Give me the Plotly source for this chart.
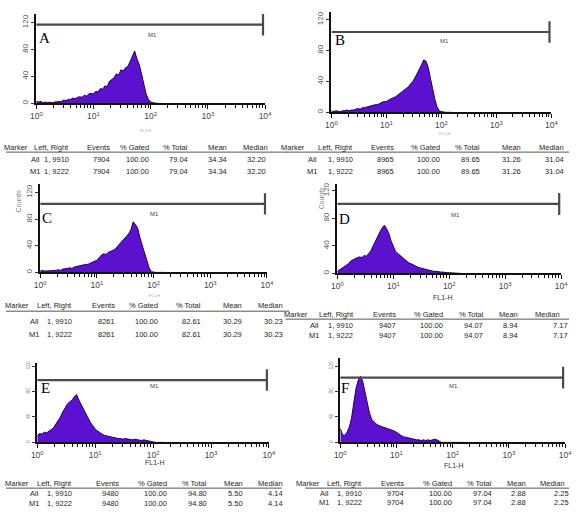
import plotly.graph_objects as go

W, H = 576, 512

# ---------------- data ----------------
# histogram bin centres, in decades of FL1-H (log10 of channel value)
log_bins = [0.00, 0.04, 0.08, 0.12, 0.16, 0.20, 0.24, 0.28, 0.32, 0.36,
            0.40, 0.44, 0.48, 0.52, 0.56, 0.60, 0.64, 0.68, 0.72, 0.76,
            0.80, 0.84, 0.88, 0.92, 0.96, 1.00, 1.04, 1.08, 1.12, 1.16,
            1.20, 1.24, 1.28, 1.32, 1.36, 1.40, 1.44, 1.48, 1.52, 1.56,
            1.60, 1.64, 1.68, 1.72, 1.76, 1.80, 1.84, 1.88, 1.92, 1.96,
            2.00, 2.04, 2.08, 2.12, 2.16, 2.20]

counts_A = [3, 2, 3, 1, 2, 1, 2, 1, 2, 2,
            3, 3, 5, 4, 6, 6, 8, 7, 9, 10,
            9, 12, 11, 14, 15, 14, 18, 17, 22, 21,
            26, 25, 33, 35, 38, 44, 42, 50, 48, 53,
            55, 62, 70, 78, 66, 58, 44, 28, 14, 6,
            2, 1, 0, 0, 0, 0]
counts_B = [2, 1, 2, 1, 1, 2, 2, 3, 2, 3,
            3, 4, 5, 4, 6, 6, 7, 8, 8, 9,
            10, 10, 12, 13, 14, 14, 16, 17, 19, 20,
            22, 24, 27, 28, 31, 33, 37, 40, 45, 50,
            56, 62, 68, 66, 58, 44, 30, 17, 7, 2,
            1, 0, 0, 0, 0, 0]
counts_C = [2, 3, 2, 2, 3, 2, 3, 3, 4, 3,
            5, 5, 6, 7, 6, 8, 9, 9, 10, 11,
            12, 12, 14, 15, 17, 18, 22, 26, 28, 27,
            30, 31, 33, 35, 39, 43, 46, 50, 54, 58,
            64, 76, 72, 66, 52, 40, 30, 20, 7, 1,
            0, 0, 0, 0, 0, 0]
counts_D = [3, 5, 7, 9, 12, 14, 18, 20, 22, 23,
            24, 23, 26, 25, 29, 33, 40, 47, 55, 60,
            66, 70, 65, 58, 47, 38, 32, 29, 26, 23,
            20, 18, 15, 14, 12, 11, 9, 8, 7, 6,
            5, 4, 4, 3, 3, 2, 2, 2, 1, 1,
            1, 1, 0, 0, 0, 0]
counts_E = [11, 14, 13, 16, 15, 17, 20, 23, 28, 33,
            40, 48, 55, 60, 64, 66, 72, 75, 66, 60,
            52, 45, 37, 31, 26, 21, 18, 15, 13, 11,
            10, 9, 8, 7, 7, 6, 6, 5, 6, 5,
            5, 4, 5, 4, 4, 3, 4, 3, 2, 1,
            0, 0, 0, 0, 0, 0]
counts_F = [22, 12, 11, 16, 24, 38, 62, 85, 98, 104,
            96, 80, 62, 46, 36, 32, 29, 27, 25, 24,
            23, 22, 21, 20, 18, 16, 13, 11, 9, 8,
            7, 6, 5, 5, 4, 4, 3, 4, 3, 4,
            3, 4, 5, 4, 2, 0, 0, 0, 0, 0,
            0, 0, 0, 0, 0, 0]

panel_letters = ["A", "B", "C", "D", "E", "F"]
all_counts = [counts_A, counts_B, counts_C, counts_D, counts_E, counts_F]

# statistics tables
table_header = ["Marker", "Left, Right", "Events", "% Gated", "% Total", "Mean", "Median"]
row_labels = ["All", "M1"]
row_left_right = ["1, 9910", "1, 9222"]
events = ["7904", "8965", "8261", "9407", "9480", "9704"]
pct_gated = ["100.00", "100.00", "100.00", "100.00", "100.00", "100.00"]
pct_total = ["79.04", "89.65", "82.61", "94.07", "94.80", "97.04"]
mean_vals = ["34.34", "31.26", "30.29", "8.94", "5.50", "2.88"]
median_vals = ["32.20", "31.04", "30.23", "7.17", "4.14", "2.25"]

gate_m1 = [1, 9222]          # M1 marker (left, right channel)
x_tick_vals = [1, 10, 100, 1000, 10000]
x_tick_text = ["10<sup>0</sup>", "10<sup>1</sup>", "10<sup>2</sup>", "10<sup>3</sup>", "10<sup>4</sup>"]
y_tick_vals = [0, 40, 80, 120]
y_tick_text = ["0", "40", "80", "120"]

# ---------------- layout config (pixel positions) ----------------
cfg = [
    dict(box=(31, 265, 12, 102), ymax=133, m1=117, cap=16, letter=(39, 36), m1lbl=(150, 33),
         xt=(143, 129, True), yt=None, ysmall=False,
         hy=146, ly=151, ry=(158, 171), lx=(0, 287), mh=25, lr=37,
         cr=[67, 108, 148, 188, 228, 268], hr=[67, 108, 148, 188, 228, 270]),
    dict(box=(333, 558, 10, 111), ymax=130, m1=104, cap=14, letter=(342, 38), m1lbl=(449, 39),
         xt=(449, 132, True), yt=None, ysmall=False,
         hy=146, ly=151, ry=(158, 171), lx=(286, 576), mh=308, lr=320,
         cr=[357, 399, 446, 487, 529, 573], hr=[357, 399, 446, 487, 529, 573]),
    dict(box=(35, 267, 183, 272), ymax=133, m1=103, cap=16, letter=(42, 217), m1lbl=(152, 213),
         xt=(152, 295, True), yt=(13, 200), ysmall=False,
         hy=305, ly=311, ry=(321, 334), lx=(0, 290), mh=26, lr=36,
         cr=[70, 114, 158, 202, 244, 285], hr=[70, 114, 158, 202, 244, 285]),
    dict(box=(339, 568, 183, 273), ymax=130, m1=101, cap=16, letter=(346, 218), m1lbl=(460, 214),
         xt=(447, 297, False), yt=(323, 197), ysmall=False,
         hy=314, ly=319, ry=(325, 335), lx=(286, 576), mh=311, lr=322,
         cr=[357, 401, 449, 490, 526, 577], hr=[358, 401, 449, 491, 526, 569]),
    dict(box=(32, 269, 363, 443), ymax=125, m1=98, cap=17, letter=(40, 388), m1lbl=(152, 386),
         xt=(152, 463, False), yt=None, ysmall=True,
         hy=484, ly=489, ry=(494, 504), lx=(0, 282), mh=26, lr=36,
         cr=[70, 118, 167, 208, 245, 285], hr=[70, 118, 167, 208, 245, 285]),
    dict(box=(342, 572, 358, 443), ymax=133, m1=102, cap=17, letter=(347, 388), m1lbl=(458, 386),
         xt=(458, 466, False), yt=None, ysmall=True,
         hy=484, ly=489, ry=(494, 503), lx=(306, 576), mh=323, lr=333,
         cr=[366, 409, 458, 499, 534, 578], hr=[366, 409, 458, 499, 534, 574]),
]


def fx(x):
    return x / W


def fy(y):
    return 1 - y / H


PURPLE = "#5c10d0"
TXT = "#1e1e1e"
FONT = "Liberation Sans, Arial, sans-serif"
TSIZE = 7.5
minor_vals = [m * 10 ** d for d in range(4) for m in range(2, 10)]

fig = go.Figure()
annotations = []
shapes = []
layout = {}

for i, c in enumerate(cfg):
    n = i + 1
    xa = "x" if n == 1 else f"x{n}"
    ya = "y" if n == 1 else f"y{n}"
    xkey = "xaxis" if n == 1 else f"xaxis{n}"
    ykey = "yaxis" if n == 1 else f"yaxis{n}"
    x0, x1, ytop, ybot = c["box"]

    xs = [10 ** b for b in log_bins]
    fig.add_trace(go.Scatter(x=xs, y=all_counts[i], mode="lines", fill="tozeroy",
                             fillcolor=PURPLE, line=dict(color="#1b0838", width=1),
                             xaxis=xa, yaxis=ya, showlegend=False, hoverinfo="skip"))
    # M1 marker bar and right end cap
    fig.add_trace(go.Scatter(x=gate_m1, y=[c["m1"], c["m1"]], mode="lines",
                             line=dict(color="#4a4a4a", width=2.2),
                             xaxis=xa, yaxis=ya, showlegend=False, hoverinfo="skip"))
    fig.add_trace(go.Scatter(x=[gate_m1[1], gate_m1[1]], y=[c["m1"] - c["cap"], c["m1"] + c["cap"]],
                             mode="lines", line=dict(color="#4a4a4a", width=2.2),
                             xaxis=xa, yaxis=ya, showlegend=False, hoverinfo="skip"))

    layout[xkey] = dict(domain=[fx(x0), fx(x1)], anchor=ya, type="log", range=[0, 4],
                        tickmode="array", tickvals=x_tick_vals, ticktext=x_tick_text,
                        ticks="outside", ticklen=4, tickwidth=1.2, tickcolor="#111",
                        minor=dict(tickmode="array", tickvals=minor_vals, ticks="outside",
                                   ticklen=2.5, tickwidth=1, tickcolor="#111"),
                        showline=True, linecolor="#111", linewidth=1.6,
                        showgrid=False, zeroline=False,
                        tickfont=dict(family=FONT, size=8.5, color="#444"))
    ysize = 5 if c["ysmall"] else 8
    layout[ykey] = dict(domain=[fy(ybot), fy(ytop)], anchor=xa, range=[0, c["ymax"]],
                        tickmode="array", tickvals=y_tick_vals, ticktext=y_tick_text,
                        ticks="outside", ticklen=3, tickcolor="#333", tickangle=-90,
                        showline=True, linecolor="#111", linewidth=2,
                        showgrid=False, zeroline=False,
                        tickfont=dict(family=FONT, size=ysize, color="#888" if c["ysmall"] else "#555"))

    # panel letter
    lx_, ly_ = c["letter"]
    annotations.append(dict(x=fx(lx_), y=fy(ly_), xref="paper", yref="paper", text=panel_letters[i],
                            showarrow=False, xanchor="center", yanchor="middle",
                            font=dict(family="Liberation Serif, Times New Roman, serif", size=15, color="#000")))
    # M1 label
    mx, my = c["m1lbl"]
    annotations.append(dict(x=fx(mx), y=fy(my), xref="paper", yref="paper", text="M1",
                            showarrow=False, xanchor="center", yanchor="middle",
                            font=dict(family=FONT, size=6, color="#444")))
    # x title
    tx, ty, faint = c["xt"]
    annotations.append(dict(x=fx(tx), y=fy(ty), xref="paper", yref="paper", text="FL1-H",
                            showarrow=False, xanchor="center", yanchor="middle",
                            font=dict(family=FONT, size=4 if faint else 7,
                                      color="#aaa" if faint else "#333")))
    # y title
    if c["yt"]:
        yx, yy = c["yt"]
        annotations.append(dict(x=fx(yx), y=fy(yy), xref="paper", yref="paper", text="Counts",
                                showarrow=False, xanchor="center", yanchor="middle", textangle=-90,
                                font=dict(family=FONT, size=7, color="#888")))

    # table
    hy = c["hy"]
    annotations.append(dict(x=fx(c["mh"]), y=fy(hy), xref="paper", yref="paper", text=table_header[0],
                            showarrow=False, xanchor="right", yanchor="middle",
                            font=dict(family=FONT, size=TSIZE, color=TXT)))
    for j, h in enumerate(table_header[1:]):
        annotations.append(dict(x=fx(c["hr"][j]), y=fy(hy), xref="paper", yref="paper", text=h,
                                showarrow=False, xanchor="right", yanchor="middle",
                                font=dict(family=FONT, size=TSIZE, color=TXT)))
    shapes.append(dict(type="line", xref="paper", yref="paper",
                       x0=fx(c["lx"][0]), x1=fx(c["lx"][1]), y0=fy(c["ly"]), y1=fy(c["ly"]),
                       line=dict(color="#555", width=1)))
    for r in range(2):
        vals = [row_left_right[r], events[i], pct_gated[i], pct_total[i], mean_vals[i], median_vals[i]]
        ry = c["ry"][r]
        annotations.append(dict(x=fx(c["lr"]), y=fy(ry), xref="paper", yref="paper", text=row_labels[r],
                                showarrow=False, xanchor="right", yanchor="middle",
                                font=dict(family=FONT, size=TSIZE, color=TXT)))
        for j, v in enumerate(vals):
            annotations.append(dict(x=fx(c["cr"][j]), y=fy(ry), xref="paper", yref="paper", text=v,
                                    showarrow=False, xanchor="right", yanchor="middle",
                                    font=dict(family=FONT, size=TSIZE, color=TXT)))

fig.update_layout(width=W, height=H, margin=dict(l=0, r=0, t=0, b=0),
                  paper_bgcolor="white", plot_bgcolor="white",
                  annotations=annotations, shapes=shapes, showlegend=False, **layout)

fig.write_html("out.html", config={"displayModeBar": False},
               post_script="document.body.style.margin='0';document.body.style.overflow='hidden';")
